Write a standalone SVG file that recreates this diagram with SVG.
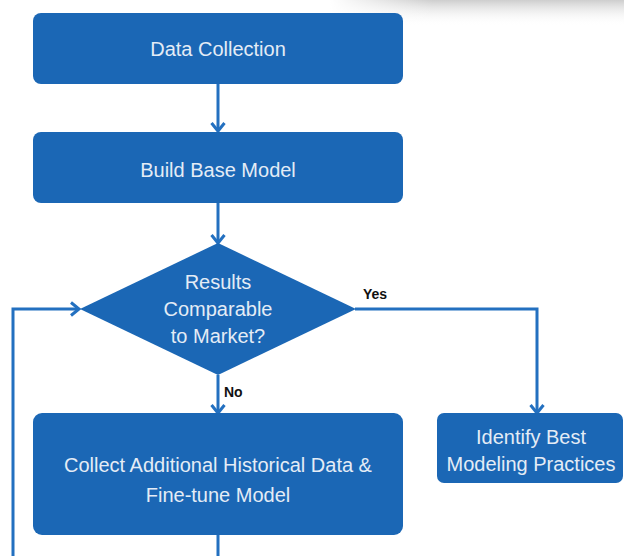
<svg xmlns="http://www.w3.org/2000/svg" width="624" height="556" viewBox="0 0 624 556">
  <defs>
    <style>
      .box { fill: #1b67b5; }
      .lbl { font-family: "Liberation Sans", Arial, sans-serif; font-size: 20px; fill: #e4ecf6; text-anchor: middle; }
      .yn { font-family: "Liberation Sans", Arial, sans-serif; font-size: 14px; font-weight: bold; fill: #111; }
      .conn { fill: none; stroke: #2370c0; stroke-width: 3; marker-end: url(#arr); }
      .plain { fill: none; stroke: #2370c0; stroke-width: 3; }
    </style>
    <marker id="arr" markerUnits="userSpaceOnUse" markerWidth="16" markerHeight="16" viewBox="0 0 16 16" refX="13" refY="8" orient="auto">
      <path d="M5,1.5 L13,8 L5,14.5" fill="none" stroke="#2370c0" stroke-width="3"/>
    </marker>
    <linearGradient id="shade" x1="0" y1="0" x2="0" y2="1">
      <stop offset="0" stop-color="#c8c8c8" stop-opacity="0.9"/>
      <stop offset="1" stop-color="#ffffff" stop-opacity="0"/>
    </linearGradient>
    <linearGradient id="shadeH" x1="0" y1="0" x2="1" y2="0">
      <stop offset="0" stop-color="#fff" stop-opacity="1"/>
      <stop offset="0.35" stop-color="#fff" stop-opacity="0"/>
    </linearGradient>
  </defs>
  <rect width="624" height="556" fill="#ffffff"/>
  <rect x="330" y="0" width="294" height="26" fill="url(#shade)"/>
  <rect x="330" y="0" width="294" height="26" fill="url(#shadeH)"/>

  <g id="connectors">
    <line class="conn" x1="218" y1="84" x2="218" y2="131"/>
    <line class="conn" x1="218" y1="203" x2="218" y2="243"/>
    <polyline class="conn" points="355,309 537,309 537,413"/>
    <line class="conn" x1="218" y1="375" x2="218" y2="413"/>
    <polyline class="conn" points="218,535 218,562 13,562 13,309 79,309"/>
    <text class="yn" x="363" y="299">Yes</text>
    <text class="yn" x="224" y="397">No</text>
  </g>

  <g id="data-collection">
    <rect class="box" x="33" y="13" width="370" height="71" rx="8"/>
    <text class="lbl" x="218" y="56">Data Collection</text>
  </g>

  <g id="build-base-model">
    <rect class="box" x="33" y="132" width="370" height="71" rx="8"/>
    <text class="lbl" x="218" y="177">Build Base Model</text>
  </g>

  <g id="results-comparable">
    <polygon class="box" points="218,243 356,309 218,375 80,309"/>
    <text class="lbl" x="218" y="289">Results</text>
    <text class="lbl" x="218" y="316">Comparable</text>
    <text class="lbl" x="218" y="343">to Market?</text>
  </g>

  <g id="collect-additional">
    <rect class="box" x="33" y="413" width="370" height="122" rx="9"/>
    <text class="lbl" x="218" y="472">Collect Additional Historical Data &amp;</text>
    <text class="lbl" x="218" y="502">Fine-tune Model</text>
  </g>

  <g id="identify-best">
    <rect class="box" x="437" y="413" width="186" height="70" rx="7"/>
    <text class="lbl" x="531" y="444">Identify Best</text>
    <text class="lbl" x="531" y="471">Modeling Practices</text>
  </g>
</svg>
